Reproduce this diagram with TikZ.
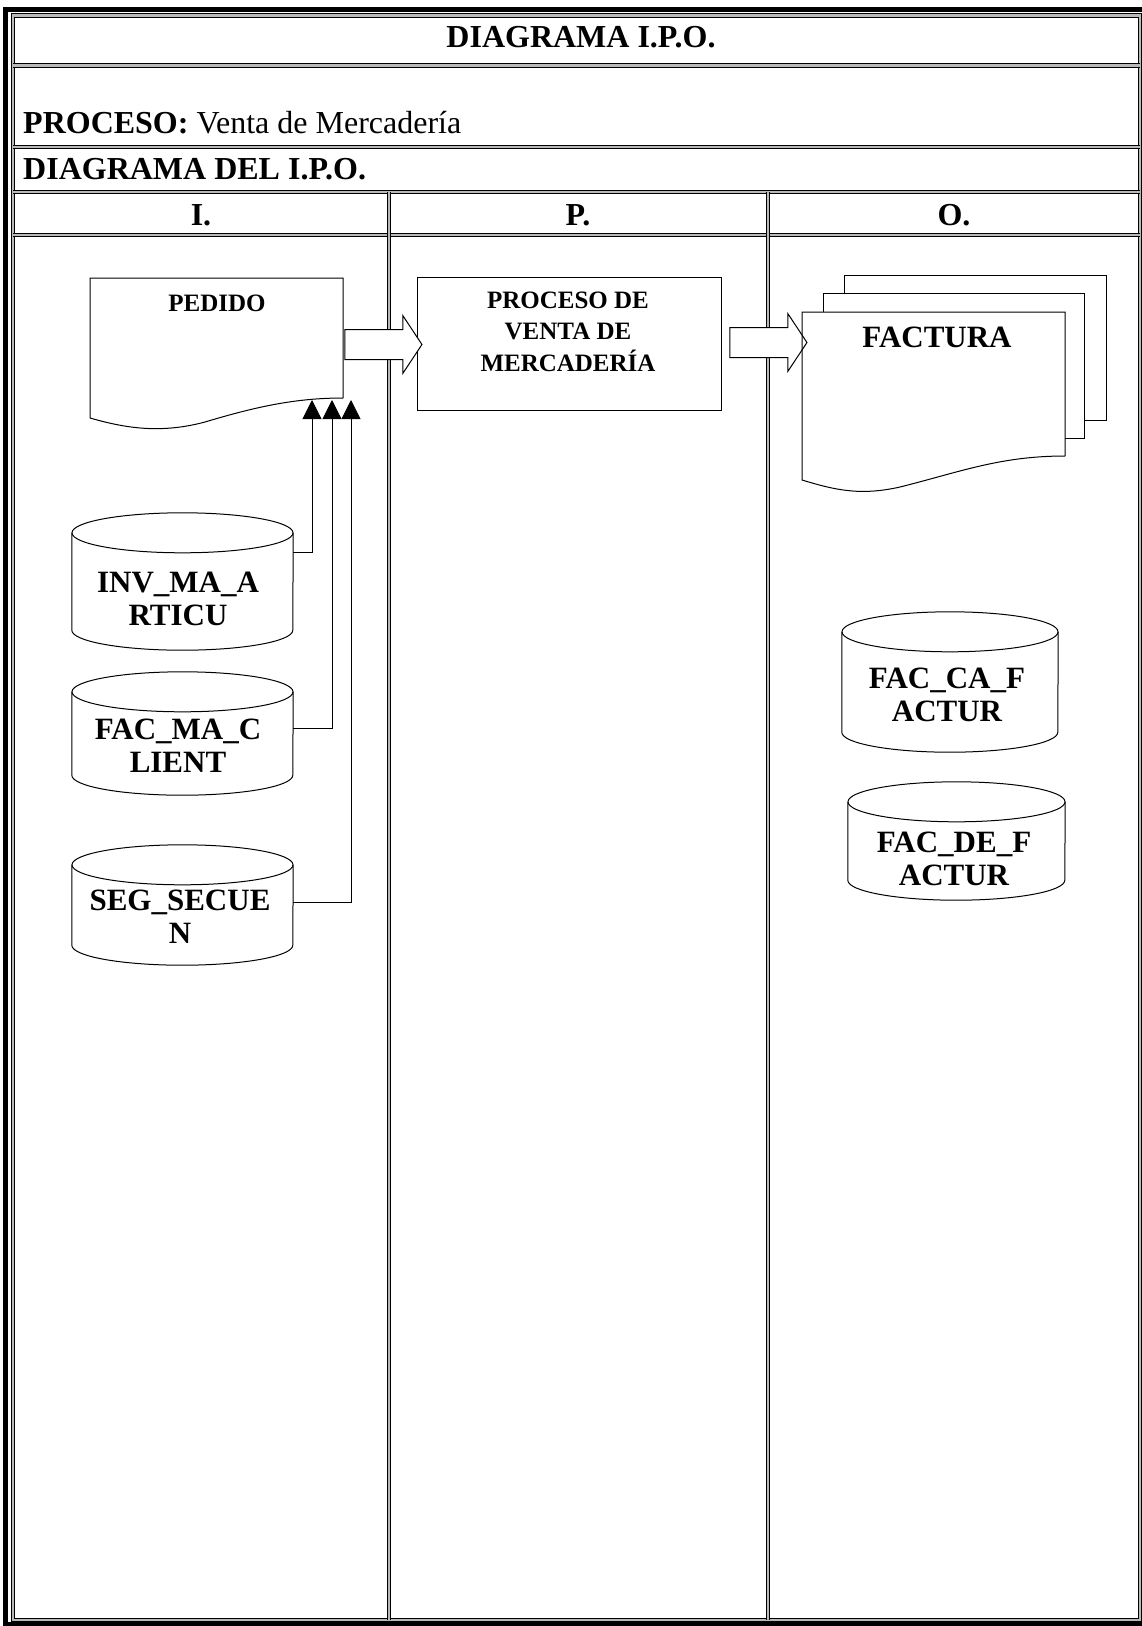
\documentclass[tikz,border=0pt]{standalone}
\usepackage{fontspec}
\setmainfont{Liberation Serif}
\usetikzlibrary{shapes.arrows,arrows.meta}

\begin{document}
\begin{tikzpicture}[x=1pt, y=-1pt,
  rule/.style={line width=1.1pt, double=gray!55, double distance=2.4pt},
  headtext/.style={inner sep=0pt, font=\fontsize{32}{38}\selectfont\bfseries},
  shapeline/.style={line width=1pt},
  dbbox/.style={rectangle, inner sep=0pt, minimum width=221pt},
  dbtext/.style={align=center, inner sep=0pt, font=\fontsize{31}{33}\selectfont\bfseries},
  procbox/.style={draw, shapeline, rectangle, minimum width=304pt, minimum height=133pt},
  bigarrow/.style={single arrow, draw, shapeline, fill=white, inner xsep=0pt, inner ysep=14.5pt,
    minimum height=77pt, single arrow head extend=14pt, single arrow tip angle=113},
  feed/.style={line width=0.8pt, -{Triangle[length=19pt, width=19pt]}}]
\useasboundingbox (0,0) rectangle (1142,1626);

% frame and table
\draw[line width=5pt] (5.5,9) rectangle (1150,1624.5);
\draw[rule] (13,15.5) rectangle (1140,1620);
\foreach \y in {65.5,147,192,235}
  \draw[rule] (13,\y) -- (1140,\y);
\foreach \x in {389,768}
  \draw[rule] (\x,192) -- (\x,1620);

\node[headtext, anchor=base] (title) at (581,47) {DIAGRAMA I.P.O.};
\node[headtext, anchor=base west] (proc) at (23,133) {PROCESO:\ \mdseries Venta de Mercadería};
\node[headtext, anchor=base west] (diag) at (23,179.5) {DIAGRAMA DEL I.P.O.};
\node[headtext, anchor=base] (colI) at (201,225) {I.};
\node[headtext, anchor=base] (colP) at (578,225) {P.};
\node[headtext, anchor=base] (colO) at (954,225) {O.};

% input
\draw[shapeline] (343,398) -- (343,278) -- (90,278) -- (90,418)
  .. controls (125,428) and (160,434) .. (205,422)
  .. controls (255,407) and (295,398) .. (343,398);
\node[inner sep=0pt, font=\fontsize{25}{30}\selectfont\bfseries] (pedido) at (217,303) {PEDIDO};

\node[dbbox, minimum height=137pt] (inv) at (182.5,581.5) {};
\node[dbbox, minimum height=123pt] (cli) at (182.5,733.5) {};
\node[dbbox, minimum height=120pt] (sec) at (182.5,905) {};
\node[dbtext] (invtxt) at (178,598.5) {INV\_MA\_A\\RTICU};
\node[dbtext] (clitxt) at (178,746) {FAC\_MA\_C\\LIENT};
\node[dbtext] (sectxt) at (180,916.5) {SEG\_SECUE\\N};

\coordinate (t1) at (312,400);
\coordinate (t2) at (332,400);
\coordinate (t3) at (351,400);
\draw[feed] (inv.east |- 0,552) -| (t1);
\draw[feed] (cli.east |- 0,728) -| (t2);
\draw[feed] (sec.east |- 0,902) -| (t3);

% process
\node[procbox] (venta) at (569,343.5) {};
\node[inner sep=0pt, align=center, font=\fontsize{25}{31.5}\selectfont\bfseries] (ventatxt) at (568,331.5) {PROCESO DE\\VENTA DE\\MERCADERÍA};

\node[bigarrow] (a1) at (378.5,344.5) {};
\node[bigarrow] (a2) at (763.5,342.5) {};

% output
\draw[shapeline] (844,293) -- (844,275) -- (1106,275) -- (1106,420) -- (1084,420);
\draw[shapeline] (823,312) -- (823,293) -- (1084,293) -- (1084,438) -- (1065,438);
\draw[shapeline] (1065,456) -- (1065,312) -- (802,312) -- (802,480)
  .. controls (835,490) and (860,496) .. (900,487)
  .. controls (960,472) and (1000,456) .. (1065,456);
\node[inner sep=0pt, font=\fontsize{31}{36}\selectfont\bfseries] (factura) at (937,337) {FACTURA};

\node[dbbox, minimum width=216pt, minimum height=140pt] (cab) at (950,682) {};
\node[dbbox, minimum width=217pt, minimum height=118pt] (det) at (956.5,841) {};
\node[dbtext] (cabtxt) at (947,694.5) {FAC\_CA\_F\\ACTUR};
\node[dbtext] (dettxt) at (954,858.5) {FAC\_DE\_F\\ACTUR};

% cylinder outlines
\foreach \n/\rad in {inv/110.5, cli/110.5, sec/110.5, cab/108, det/108.5} {
  \draw[shapeline] ([yshift=-20pt]\n.north) ellipse [x radius=\rad pt, y radius=20pt];
  \draw[shapeline] ([yshift=-20pt]\n.north west) -- ([yshift=20pt]\n.south west)
    arc [start angle=180, end angle=360, x radius=\rad pt, y radius=20pt]
    -- ([yshift=-20pt]\n.north east);
}
\end{tikzpicture}
\end{document}
